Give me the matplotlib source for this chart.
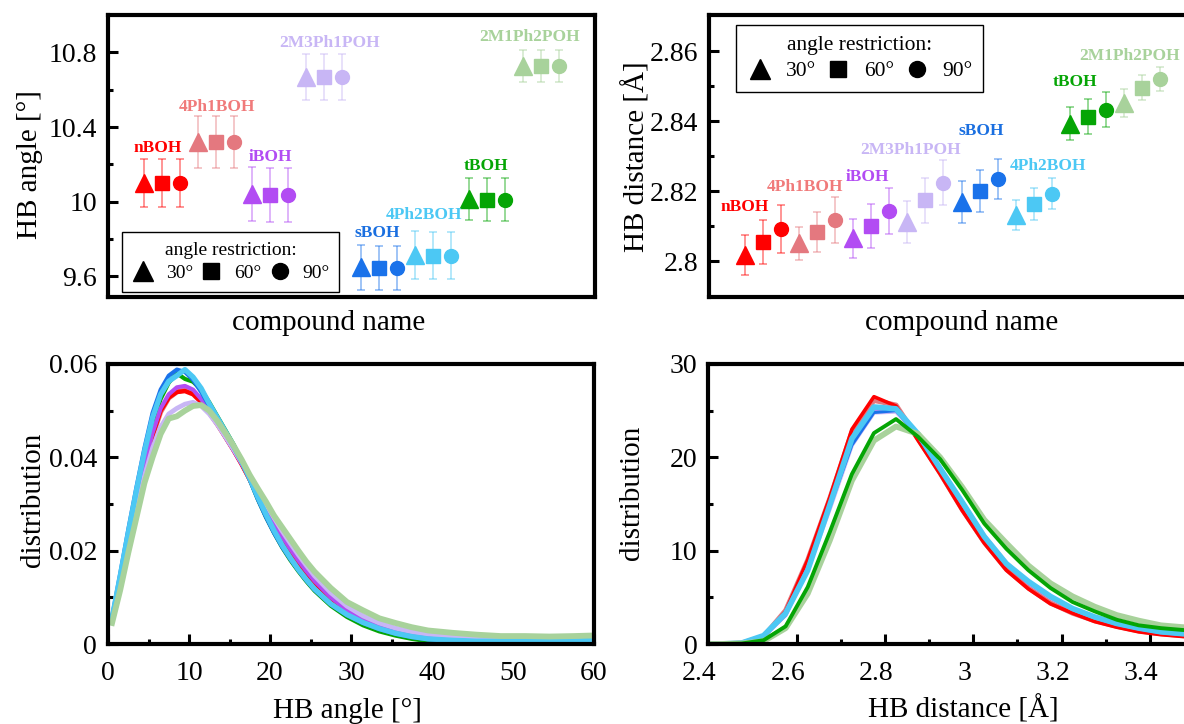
import matplotlib
matplotlib.use("Agg")
import matplotlib.pyplot as plt
from matplotlib.lines import Line2D
from matplotlib.transforms import ScaledTranslation
from matplotlib.colors import to_rgba

plt.rcParams['font.family'] = ['Liberation Serif', 'DejaVu Serif']

# ---------------- data ----------------
compounds = ['nBOH', '4Ph1BOH', 'iBOH', '2M3Ph1POH', 'sBOH', '4Ph2BOH', 'tBOH', '2M1Ph2POH']
colors = ['#ff0000', '#e4787f', '#b24cf3', '#c8b6f5', '#1a72ea', '#4cc8f4', '#05a505', '#a8d29b']
label_colors = ['#ff0000', '#f07a7a', '#b24cf3', '#c8b6f5', '#1a6fe0', '#4cc8f4', '#05a505', '#a8d29b']
restrictions = ['30°', '60°', '90°']

# HB angle means / errors for 30, 60, 90 deg restriction
angle_mean = [
    [10.10, 10.10, 10.10],
    [10.32, 10.32, 10.32],
    [10.04, 10.035, 10.035],
    [10.67, 10.67, 10.67],
    [9.65, 9.645, 9.645],
    [9.715, 9.712, 9.712],
    [10.015, 10.012, 10.012],
    [10.727, 10.725, 10.725],
]
angle_err = [
    [0.13, 0.13, 0.13],
    [0.14, 0.14, 0.14],
    [0.145, 0.145, 0.145],
    [0.123, 0.123, 0.123],
    [0.12, 0.12, 0.12],
    [0.128, 0.128, 0.128],
    [0.114, 0.114, 0.114],
    [0.086, 0.086, 0.086],
]
# HB distance means / errors
dist_mean = [
    [2.8019, 2.8055, 2.8093],
    [2.8051, 2.8084, 2.8118],
    [2.8065, 2.8101, 2.8144],
    [2.8112, 2.8174, 2.8224],
    [2.8170, 2.8200, 2.8235],
    [2.8133, 2.8163, 2.8193],
    [2.8393, 2.8412, 2.8433],
    [2.8451, 2.8496, 2.8521],
]
dist_err = [
    [0.0057, 0.0063, 0.0069],
    [0.0048, 0.0057, 0.0065],
    [0.0057, 0.0062, 0.0065],
    [0.0061, 0.0065, 0.0064],
    [0.0060, 0.0060, 0.0058],
    [0.0043, 0.0045, 0.0044],
    [0.0047, 0.0050, 0.0051],
    [0.0040, 0.0036, 0.0034],
]
# compound label positions (x in marker-index units, y in data units)
angle_label_pos = [(0.78, 10.29), (4.06, 10.506), (6.99, 10.237), (10.3, 10.85),
                   (12.93, 9.833), (15.5, 9.93), (18.95, 10.193), (21.35, 10.88)]
dist_label_pos = [(0.0, 2.8155), (3.3, 2.8212), (6.8, 2.8241), (9.2, 2.8319),
                  (13.1, 2.8371), (16.8, 2.8271), (18.3, 2.8511), (21.3, 2.8586)]

# HB angle distributions
angle_x = [0.5, 1.5, 2.5, 3.5, 4.5, 5.5, 6.5, 7.5, 8.5, 9.5, 10.5, 11.5, 12.5, 13.5,
           14.5, 15.5, 16.5, 17.5, 18.5, 19.5, 20.5, 21.5, 22.5, 23.5, 24.5, 25.5,
           27.5, 29.5, 31.5, 33.5, 35.5, 37.5, 39.5, 42.5, 45.5, 48.5, 51.5, 54.5, 57.5, 59.5]
angle_dist = {
    'nBOH': [.0052, .0130, .0218, .0300, .0380, .0448, .0500, .0528, .0540, .0542, .0535, .0518,
             .0495, .0470, .0443, .0415, .0385, .0352, .0318, .0285, .0252, .0224, .0197, .0173,
             .0151, .0131, .0098, .0072, .0053, .0039, .0029, .0022, .0018, .0015, .0013, .0011,
             .0010, .0009, .0009, .0009],
    '4Ph1BOH': [.0050, .0128, .0215, .0298, .0378, .0445, .0497, .0527, .0540, .0545, .0540, .0523,
                .0500, .0473, .0445, .0417, .0387, .0355, .0322, .0289, .0257, .0228, .0200, .0176,
                .0154, .0134, .0101, .0075, .0056, .0042, .0032, .0025, .0020, .0016, .0013, .0012,
                .0011, .0010, .0010, .0010],
    'iBOH': [.0053, .0133, .0220, .0303, .0383, .0452, .0505, .0535, .0550, .0553, .0545, .0525,
             .0500, .0472, .0443, .0415, .0386, .0355, .0323, .0291, .0260, .0231, .0204, .0179,
             .0156, .0135, .0100, .0073, .0053, .0038, .0027, .0019, .0014, .0010, .0008, .0007,
             .0007, .0006, .0006, .0006],
    '2M3Ph1POH': [.0048, .0122, .0205, .0285, .0360, .0420, .0465, .0493, .0505, .0514, .0518, .0510,
                  .0493, .0470, .0444, .0417, .0389, .0360, .0330, .0300, .0270, .0242, .0216, .0191,
                  .0168, .0146, .0110, .0081, .0060, .0045, .0034, .0026, .0021, .0017, .0015, .0013,
                  .0012, .0012, .0012, .0013],
    'sBOH': [.0058, .0150, .0245, .0335, .0420, .0495, .0545, .0575, .0588, .0583, .0566, .0540,
             .0510, .0480, .0452, .0422, .0390, .0352, .0310, .0272, .0238, .0208, .0182, .0158,
             .0136, .0116, .0085, .0062, .0045, .0032, .0022, .0015, .0010, .0007, .0006, .0005,
             .0005, .0005, .0005, .0006],
    '4Ph2BOH': [.0055, .0145, .0238, .0328, .0412, .0485, .0535, .0563, .0575, .0588, .0572, .0548,
                .0515, .0485, .0455, .0425, .0392, .0355, .0315, .0278, .0243, .0212, .0185, .0160,
                .0138, .0118, .0086, .0063, .0046, .0033, .0023, .0016, .0011, .0008, .0006, .0006,
                .0006, .0006, .0006, .0008],
    'tBOH': [.0055, .0140, .0228, .0315, .0398, .0470, .0525, .0560, .0580, .0568, .0562, .0545,
             .0518, .0488, .0458, .0428, .0392, .0352, .0310, .0272, .0238, .0207, .0180, .0156,
             .0134, .0114, .0082, .0058, .0040, .0027, .0018, .0011, .0006, .0003, .0002, .0002,
             .0002, .0002, .0002, .0002],
    '2M1Ph2POH': [.0045, .0115, .0195, .0270, .0345, .0400, .0450, .0483, .0488, .0500, .0510, .0512,
                  .0500, .0478, .0452, .0425, .0395, .0362, .0333, .0305, .0275, .0250, .0225, .0200,
                  .0176, .0155, .0120, .0090, .0072, .0055, .0045, .0036, .0029, .0024, .0020, .0017,
                  .0017, .0016, .0017, .0018],
}

# HB distance distributions
dist_x = [2.375, 2.425, 2.475, 2.525, 2.575, 2.625, 2.675, 2.725, 2.775, 2.825, 2.875, 2.925,
          2.975, 3.025, 3.075, 3.125, 3.175, 3.225, 3.275, 3.325, 3.375, 3.425, 3.475, 3.525]
dist_dist = {
    'nBOH': [0.0, 0.0, 0.1, 0.7, 3.5, 9.0, 15.7, 23.0, 26.5, 25.5, 21.8, 18.2, 14.3, 10.8, 7.9,
             5.9, 4.3, 3.3, 2.4, 1.8, 1.3, 1.0, 0.8, 0.7],
    '4Ph1BOH': [0.0, 0.0, 0.1, 0.8, 3.6, 9.0, 15.6, 22.7, 26.1, 25.6, 22.0, 18.3, 14.4, 10.9, 8.0,
                6.0, 4.4, 3.3, 2.5, 1.9, 1.4, 1.1, 0.9, 0.8],
    'iBOH': [0.0, 0.0, 0.1, 0.8, 3.2, 8.2, 14.8, 21.6, 25.0, 25.0, 22.3, 18.7, 15.0, 11.4, 8.5,
             6.5, 4.9, 3.7, 2.8, 2.1, 1.6, 1.2, 1.0, 0.9],
    '2M3Ph1POH': [0.0, 0.0, 0.1, 0.8, 3.1, 8.0, 14.5, 21.3, 24.8, 24.9, 22.4, 18.9, 15.2, 11.6, 8.7,
                  6.6, 5.0, 3.8, 2.9, 2.2, 1.7, 1.3, 1.1, 0.9],
    'sBOH': [0.0, 0.0, 0.1, 0.8, 3.1, 8.1, 14.7, 21.3, 24.8, 25.0, 22.3, 18.7, 15.1, 11.5, 8.6,
             6.6, 5.0, 3.8, 2.9, 2.2, 1.7, 1.3, 1.1, 0.9],
    '4Ph2BOH': [0.0, 0.0, 0.1, 0.9, 3.3, 7.9, 14.9, 22.0, 25.4, 25.2, 22.5, 18.8, 15.2, 11.5, 8.6,
                6.7, 5.1, 3.8, 2.9, 2.2, 1.7, 1.3, 1.1, 1.0],
    'tBOH': [0.0, 0.0, 0.05, 0.4, 1.9, 6.1, 12.0, 18.2, 22.6, 24.1, 22.2, 19.8, 16.5, 12.9, 10.2,
             7.9, 6.0, 4.5, 3.5, 2.6, 2.0, 1.7, 1.5, 1.4],
    '2M1Ph2POH': [0.0, 0.0, 0.05, 0.3, 1.7, 5.4, 11.1, 17.5, 21.8, 23.3, 22.5, 20.0, 16.8, 13.3, 10.8,
                  8.4, 6.5, 5.1, 4.0, 3.1, 2.5, 2.0, 1.8, 1.7],
}
angle_line_widths = {'nBOH': 3.2, '4Ph1BOH': 3.6, 'iBOH': 3.0, '2M3Ph1POH': 3.4, 'sBOH': 3.0,
                     '4Ph2BOH': 3.8, 'tBOH': 3.0, '2M1Ph2POH': 4.2}
dist_line_widths = {'nBOH': 2.6, '4Ph1BOH': 3.6, 'iBOH': 2.2, '2M3Ph1POH': 3.0, 'sBOH': 2.2,
                    '4Ph2BOH': 4.0, 'tBOH': 2.8, '2M1Ph2POH': 4.2}
angle_order = ['tBOH', '4Ph1BOH', 'nBOH', 'iBOH', '2M3Ph1POH', 'sBOH', '4Ph2BOH', '2M1Ph2POH']
dist_order = ['4Ph1BOH', 'nBOH', 'iBOH', '2M3Ph1POH', 'sBOH', '4Ph2BOH', '2M1Ph2POH', 'tBOH']

angle_yticks = [9.6, 10.0, 10.4, 10.8]
angle_yticklabels = ['9.6', '10', '10.4', '10.8']
dist_yticks = [2.80, 2.82, 2.84, 2.86]
dist_yticklabels = ['2.8', '2.82', '2.84', '2.86']
adist_yticks = [0, 0.02, 0.04, 0.06]
adist_yticklabels = ['0', '0.02', '0.04', '0.06']
adist_xticks = [0, 10, 20, 30, 40, 50, 60]
ddist_xticks = [2.4, 2.6, 2.8, 3.0, 3.2, 3.4]
ddist_xticklabels = ['2.4', '2.6', '2.8', '3', '3.2', '3.4']
ddist_yticks = [0, 10, 20, 30]

markers = ['^', 's', 'o']
msizes = [12.5, 9.5, 10]

# ---------------- figure ----------------
W, H = 1184, 724
fig = plt.figure(figsize=(W / 100, H / 100), dpi=100)

def px_axes(x0, y0, x1, y1):
    return fig.add_axes([x0 / W, 1 - y1 / H, (x1 - x0) / W, (y1 - y0) / H])

ax1 = px_axes(108, 15, 595, 297)
ax2 = px_axes(709, 15, 1196, 297)
ax3 = px_axes(108, 364, 594, 644)
ax4 = px_axes(708.4, 364, 1194, 644)

TICK_FS = 20
LABEL_FS = 21

for ax in (ax1, ax2, ax3, ax4):
    for s in ax.spines.values():
        s.set_linewidth(3)
    ax.tick_params(which='both', direction='in', labelsize=TICK_FS, width=2.2,
                   top=False, right=False)
    ax.tick_params(which='major', length=7.5, pad=8)
    ax.tick_params(which='minor', length=3.8)

def scatter_panel(ax, means, errs, label_pos, ylim):
    for c, name in enumerate(compounds):
        col = colors[c]
        ecol = to_rgba(col, 0.45)
        for r in range(3):
            xi = 3 * c + r
            ax.errorbar([xi], [means[c][r]], yerr=[errs[c][r]], fmt='none', ecolor=ecol,
                        elinewidth=1.3, capsize=3, capthick=1.3, zorder=2)
            ax.plot([xi], [means[c][r]], ls='none', marker=markers[r], ms=msizes[r],
                    color=col, mec=col, zorder=3)
        lx, ly = label_pos[c]
        ax.text(lx, ly, name, color=label_colors[c], fontsize=12.5, fontweight='bold',
                ha='center', va='center', zorder=4)
    ax.set_xlim(-2, 25)
    ax.set_ylim(*ylim)
    ax.set_xticks([])

scatter_panel(ax1, angle_mean, angle_err, angle_label_pos, (9.49, 11.0))
ax1.set_yticks(angle_yticks)
ax1.set_yticklabels(angle_yticklabels)
ax1.set_yticks([9.8, 10.2, 10.6], minor=True)

scatter_panel(ax2, dist_mean, dist_err, dist_label_pos, (2.7898, 2.8703))
ax2.set_yticks(dist_yticks)
ax2.set_yticklabels(dist_yticklabels)
ax2.set_yticks([2.81, 2.83, 2.85], minor=True)

# legends
def make_legend(ax, loc, anchor, hl_sizes, fs, tfs, bpad, htp, colsp):
    handles = [Line2D([], [], ls='none', marker=m, ms=s, color='k') for m, s in zip(markers, hl_sizes)]
    leg = ax.legend(handles, restrictions, title='angle restriction:', ncol=3, loc=loc,
                    bbox_to_anchor=anchor, fontsize=fs, title_fontsize=tfs, frameon=True,
                    fancybox=False, edgecolor='black', framealpha=1, borderpad=bpad,
                    handlelength=1.2, handletextpad=htp, columnspacing=colsp,
                    borderaxespad=0, labelspacing=0.3)
    leg.get_frame().set_linewidth(1.0)
    leg.set_zorder(5)
    return leg

make_legend(ax1, 'lower left', ((122 - 108) / 487, (297 - 292) / 282), [15, 11, 11.5],
            14, 14, 0.5, 0.55, 0.35)
make_legend(ax2, 'upper left', ((736 - 709) / 487, (297 - 25) / 282), [14.5, 11, 11.5],
            15.5, 15.5, 0.5, 0.6, 0.45)

# distributions
for name in angle_order:
    c = compounds.index(name)
    ax3.plot(angle_x, angle_dist[name], color=colors[c], lw=angle_line_widths[name],
             solid_joinstyle='round')
for name in dist_order:
    c = compounds.index(name)
    ax4.plot(dist_x, dist_dist[name], color=colors[c], lw=dist_line_widths[name],
             solid_joinstyle='round')

ax3.set_xlim(0, 60)
ax3.set_ylim(0, 0.06)
ax3.set_xticks(adist_xticks)
ax3.set_xticks([5, 15, 25, 35, 45, 55], minor=True)
ax3.set_yticks(adist_yticks)
ax3.set_yticklabels(adist_yticklabels)
ax3.set_yticks([0.01, 0.03, 0.05], minor=True)
ax3.tick_params(axis='x', pad=12)

ax4.set_xlim(2.4, 3.5)
ax4.set_ylim(0, 30)
ax4.set_xticks(ddist_xticks)
ax4.set_xticklabels(ddist_xticklabels)
ax4.set_xticks([2.5, 2.7, 2.9, 3.1, 3.3], minor=True)
ax4.set_yticks(ddist_yticks)
ax4.set_yticks([5, 15, 25], minor=True)
ax4.tick_params(axis='x', pad=12)
shift = ScaledTranslation(-9 / 100, 0, fig.dpi_scale_trans)
for lab in ax4.get_xticklabels():
    lab.set_transform(lab.get_transform() + shift)

# axis labels
ax1.text((329 - 108) / 487, (297 - 330) / 282, 'compound name', transform=ax1.transAxes,
         ha='center', va='baseline', fontsize=LABEL_FS)
ax2.text((962 - 709) / 487, (297 - 330) / 282, 'compound name', transform=ax2.transAxes,
         ha='center', va='baseline', fontsize=LABEL_FS)
ax3.text((347 - 108) / 486, (644 - 718) / 280, 'HB angle [°]', transform=ax3.transAxes,
         ha='center', va='baseline', fontsize=LABEL_FS)
ax4.text((963 - 708.4) / 485.6, (644 - 718) / 280, 'HB distance [Å]', transform=ax4.transAxes,
         ha='center', va='baseline', fontsize=LABEL_FS)

ax1.text((30 - 108) / 487, (297 - 165) / 282, 'HB angle [°]', transform=ax1.transAxes,
         rotation=90, ha='center', va='center', fontsize=LABEL_FS)
ax2.text((636 - 709) / 487, (297 - 157) / 282, 'HB distance [Å]', transform=ax2.transAxes,
         rotation=90, ha='center', va='center', fontsize=LABEL_FS)
ax3.text((33 - 108) / 486, (644 - 500) / 280, 'distribution', transform=ax3.transAxes,
         rotation=90, ha='center', va='center', fontsize=LABEL_FS)
ax4.text((632 - 708.4) / 485.6, (644 - 493) / 280, 'distribution', transform=ax4.transAxes,
         rotation=90, ha='center', va='center', fontsize=LABEL_FS)

fig.savefig('out.png', dpi=100)
